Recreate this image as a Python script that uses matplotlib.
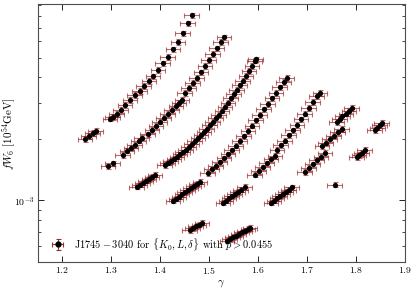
import numpy as np
import matplotlib
matplotlib.use('Agg')
import matplotlib.pyplot as plt
from matplotlib.ticker import NullFormatter

plt.rcParams.update({
    'font.family': 'serif',
    'font.serif': ['cmr10'],
    'mathtext.fontset': 'cm',
    'axes.formatter.use_mathtext': True,
    'font.size': 7,
})

# gamma / fW6 (in units of 1e-3), one pair per track piece
gamma_1a = [1.246, 1.254, 1.262, 1.268]
fw6_1a = [2.00, 2.07, 2.14, 2.19]
gamma_1b = [1.297, 1.303, 1.311, 1.319, 1.328, 1.338, 1.348, 1.358, 1.366, 1.377,
            1.385, 1.395, 1.405, 1.415, 1.426, 1.436, 1.446, 1.456, 1.464]
fw6_1b = [2.51, 2.56, 2.65, 2.77, 2.93, 3.10, 3.28, 3.43, 3.63, 3.84,
          4.05, 4.34, 4.69, 5.03, 5.49, 5.95, 6.58, 7.35, 8.05]

gamma_2a = [1.293, 1.303]
fw6_2a = [1.47, 1.52]
gamma_2b = [1.323, 1.332, 1.340, 1.348, 1.356, 1.362]
fw6_2b = [1.67, 1.75, 1.81, 1.87, 1.96, 2.03]
gamma_2c = [1.374, 1.383, 1.391, 1.399, 1.407, 1.415, 1.423, 1.432, 1.438, 1.444]
fw6_2c = [2.11, 2.21, 2.31, 2.43, 2.54, 2.65, 2.77, 2.90, 3.00, 3.10]
gamma_2d = [1.450, 1.458, 1.466, 1.474, 1.483, 1.491, 1.499, 1.507, 1.515, 1.523, 1.530]
fw6_2d = [3.35, 3.55, 3.75, 3.97, 4.24, 4.54, 4.86, 5.20, 5.55, 5.95, 6.29]

gamma_3a = [1.352, 1.358, 1.364, 1.370, 1.377, 1.383, 1.389]
fw6_3a = [1.167, 1.193, 1.220, 1.248, 1.276, 1.305, 1.335]
gamma_3b = [1.409, 1.415, 1.421, 1.428, 1.434, 1.440, 1.446, 1.452, 1.458, 1.464,
            1.470, 1.477, 1.483, 1.489, 1.495, 1.501, 1.507, 1.513, 1.519, 1.526,
            1.532, 1.538, 1.544, 1.550, 1.556, 1.562, 1.568, 1.575, 1.581, 1.587,
            1.593, 1.595]
fw6_3b = [1.49, 1.53, 1.56, 1.60, 1.64, 1.68, 1.72, 1.77, 1.83, 1.88,
          1.95, 2.01, 2.08, 2.16, 2.24, 2.33, 2.42, 2.53, 2.63, 2.75,
          2.88, 3.01, 3.16, 3.32, 3.48, 3.66, 3.86, 4.07, 4.30, 4.55,
          4.82, 4.91]

gamma_4a = [1.426, 1.432, 1.438, 1.444, 1.450, 1.456, 1.462, 1.468, 1.474, 1.481]
fw6_4a = [0.997, 1.020, 1.045, 1.070, 1.095, 1.123, 1.149, 1.177, 1.205, 1.234]
gamma_4b = [1.497, 1.505, 1.513, 1.521, 1.530, 1.538, 1.546, 1.554, 1.562, 1.570,
            1.579, 1.587, 1.595, 1.603, 1.611, 1.619, 1.628, 1.636, 1.644, 1.652, 1.658]
fw6_4b = [1.365, 1.418, 1.475, 1.538, 1.605, 1.678, 1.760, 1.851, 1.951, 2.063,
          2.185, 2.319, 2.464, 2.621, 2.789, 2.966, 3.156, 3.356, 3.570, 3.798, 3.967]

gamma_5a = [1.528, 1.534, 1.540, 1.546, 1.552, 1.558, 1.564, 1.572]
fw6_5a = [0.974, 0.999, 1.024, 1.048, 1.075, 1.101, 1.129, 1.166]
gamma_5b = [1.593, 1.601, 1.609, 1.617, 1.626, 1.634]
fw6_5b = [1.335, 1.396, 1.452, 1.519, 1.588, 1.652]
gamma_5c = [1.638, 1.646, 1.654, 1.662, 1.670, 1.679, 1.687, 1.695, 1.703, 1.711, 1.719, 1.726]
fw6_5c = [1.768, 1.861, 1.964, 2.078, 2.203, 2.341, 2.489, 2.654, 2.833, 3.030, 3.241, 3.353]

gamma_6a = [1.626, 1.632, 1.638, 1.644, 1.650, 1.656, 1.662, 1.668]
fw6_6a = [0.974, 0.999, 1.024, 1.049, 1.077, 1.104, 1.131, 1.160]
gamma_6b = [1.695, 1.703, 1.711, 1.719, 1.728, 1.736]
fw6_6b = [1.380, 1.441, 1.503, 1.569, 1.637, 1.709]
gamma_6c = [1.730, 1.738, 1.746, 1.754, 1.762, 1.770]
fw6_6c = [1.849, 1.920, 1.995, 2.073, 2.154, 2.238]

gamma_7a = [1.756]
fw6_7a = [1.193]
gamma_7b = [1.801, 1.806, 1.811, 1.817]
fw6_7b = [1.634, 1.671, 1.709, 1.768]
gamma_7c = [1.760, 1.766, 1.772, 1.779, 1.785, 1.791]
fw6_7c = [2.421, 2.497, 2.578, 2.660, 2.745, 2.833]
gamma_8 = [1.838, 1.843, 1.848, 1.852]
fw6_8 = [2.213, 2.270, 2.332, 2.393]

gamma_9a = [1.460, 1.466, 1.472, 1.479, 1.485]
fw6_9a = [0.716, 0.731, 0.746, 0.762, 0.778]
gamma_9b = [1.536, 1.542, 1.548, 1.554, 1.560, 1.566, 1.572, 1.579, 1.583]
fw6_9b = [0.636, 0.648, 0.660, 0.673, 0.685, 0.698, 0.711, 0.724, 0.734]

gamma_err = 0.015
fw6_rel_err = 0.03

segments = [
    (gamma_1a, fw6_1a), (gamma_1b, fw6_1b),
    (gamma_2a, fw6_2a), (gamma_2b, fw6_2b), (gamma_2c, fw6_2c), (gamma_2d, fw6_2d),
    (gamma_3a, fw6_3a), (gamma_3b, fw6_3b),
    (gamma_4a, fw6_4a), (gamma_4b, fw6_4b),
    (gamma_5a, fw6_5a), (gamma_5b, fw6_5b), (gamma_5c, fw6_5c),
    (gamma_6a, fw6_6a), (gamma_6b, fw6_6b), (gamma_6c, fw6_6c),
    (gamma_7a, fw6_7a), (gamma_7b, fw6_7b), (gamma_7c, fw6_7c), (gamma_8, fw6_8),
    (gamma_9a, fw6_9a), (gamma_9b, fw6_9b),
]

bar_color = (0.55, 0.05, 0.05, 0.6)

fig = plt.figure(figsize=(4.16, 2.91), dpi=100)
ax = fig.add_axes([0.091, 0.0997, 0.883, 0.8853])

for g, f in segments:
    g = np.array(g)
    f = np.array(f) * 1e-3
    ax.errorbar(g, f, xerr=gamma_err, yerr=fw6_rel_err * f, fmt='none',
                ecolor=bar_color, elinewidth=0.8, capsize=1.8, capthick=0.8, zorder=2)
    ax.plot(g, f, 'o', color='k', ms=3.8, mew=0, zorder=3)

# legend proxy
proxy = ax.errorbar([np.nan], [np.nan], xerr=[0.01], yerr=[1e-4], fmt='o', color='k',
                    ms=3.5, ecolor=(0.55, 0.05, 0.05, 0.85), elinewidth=0.8,
                    capsize=1.8, capthick=0.8)
ax.legend([proxy], [r'$\mathrm{J}1745-3040$ for $\{K_0, L, \delta\}$ with $p > 0.0455$'],
          loc='lower left', frameon=False, fontsize=7.5, handletextpad=0.6)

ax.set_yscale('log')
ax.set_xlim(1.15, 1.9)
ax.set_ylim(5.0e-4, 9.1e-3)
ax.set_xticks([1.2, 1.3, 1.4, 1.5, 1.6, 1.7, 1.8, 1.9])
ax.yaxis.set_minor_formatter(NullFormatter())
ax.tick_params(which='both', direction='in', top=True, right=True, labelsize=7, pad=2.5)
ax.tick_params(which='major', length=4, width=0.6)
ax.tick_params(which='minor', length=2, width=0.5)
for s in ax.spines.values():
    s.set_color('0.3')
    s.set_linewidth(0.8)

ax.set_xlabel(r'$\gamma$', fontsize=8, labelpad=1)
ax.set_ylabel(r'$fW_6\ [10^{54}\mathrm{GeV}]$', fontsize=8)
ax.yaxis.set_label_coords(-0.055, 0.5)

fig.savefig('out.png', dpi=100)
